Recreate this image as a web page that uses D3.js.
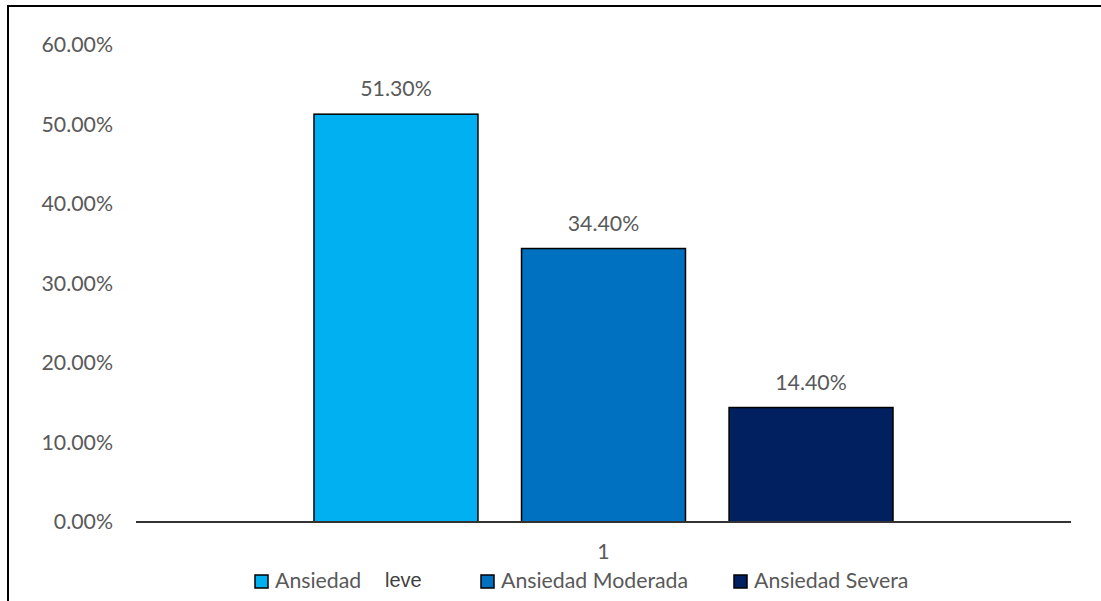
<!DOCTYPE html>
<html><head><meta charset="utf-8">
<script src="https://cdn.jsdelivr.net/npm/d3@7"></script>
<style>body{margin:0;background:#fff}svg{display:block}</style>
</head><body>
<svg id="c" width="1101" height="601"></svg>
<script>
const categories = ["1"];
const seriesNames = ["Ansiedad leve", "Ansiedad Moderada", "Ansiedad Severa"];
const seriesValues = [0.513, 0.344, 0.144];
const seriesColors = ["#00B0F0", "#0070C0", "#002060"];
const yTicks = [0, 0.1, 0.2, 0.3, 0.4, 0.5, 0.6];

const svg = d3.select("#c");
const FONT = "Lato, 'Open Sans', sans-serif";
const FS = "21.3px";
const TXT = "#595959";

// frame
svg.append("rect").attr("x", 8).attr("y", 6).attr("width", 1120).attr("height", 620)
  .attr("fill", "none").attr("stroke", "#000").attr("stroke-width", 2);

const mLeft = 136, mRight = 1071, mTop = 45, mBottom = 522;
const y = d3.scaleLinear().domain([0, 0.6]).range([mBottom, mTop]);
const x0 = d3.scaleBand().domain(categories).range([mLeft, mRight]);
const x1 = d3.scaleBand().domain(seriesNames).range([x0("1") + 178, x0("1") + x0.bandwidth() - 178]).paddingInner(0.21);

// y axis labels
const yAxis = d3.axisLeft(y).tickValues(yTicks).tickFormat(d => (d * 100).toFixed(2) + "%").tickSize(0).tickPadding(23);
const gy = svg.append("g").attr("transform", `translate(${mLeft},0)`).call(yAxis);
gy.select(".domain").remove();
gy.selectAll("text").attr("fill", TXT).style("font-family", FONT).style("font-size", FS);

// bars
const data = seriesNames.map((s, i) => ({ s, v: seriesValues[i], c: seriesColors[i] }));
svg.selectAll("rect.bar").data(data).join("rect").attr("class", "bar")
  .attr("x", d => x1(d.s)).attr("width", x1.bandwidth())
  .attr("y", d => y(d.v)).attr("height", d => y(0) - y(d.v))
  .attr("fill", d => d.c).attr("stroke", "#000").attr("stroke-width", 1.5);

// value labels
svg.selectAll("text.val").data(data).join("text").attr("class", "val")
  .attr("x", d => x1(d.s) + x1.bandwidth() / 2).attr("y", d => y(d.v) - 18)
  .attr("text-anchor", "middle").attr("fill", TXT)
  .style("font-family", FONT).style("font-size", FS)
  .text(d => (d.v * 100).toFixed(2) + "%");

// x axis
const xAxis = d3.axisBottom(x0).tickSize(0).tickPadding(22);
const gx = svg.append("g").attr("transform", `translate(0,${mBottom})`).call(xAxis);
gx.select(".domain").attr("stroke", "#333").attr("stroke-width", 2).attr("d", `M${mLeft},0H${mRight}`);
gx.selectAll("text").attr("fill", TXT).style("font-family", FONT).style("font-size", FS);

// legend
const legX = [255, 481, 734];
const lg = svg.append("g");
data.forEach((d, i) => {
  lg.append("rect").attr("x", legX[i]).attr("y", 575).attr("width", 13).attr("height", 13)
    .attr("fill", d.c).attr("stroke", "#000").attr("stroke-width", 1.5);
  const t = lg.append("text").attr("x", legX[i] + 20).attr("y", 588).attr("fill", TXT)
    .style("font-family", FONT).style("font-size", FS);
  if (i === 0) {
    const parts = d.s.split(" ");
    t.append("tspan").text(parts[0]);
    t.append("tspan").attr("x", 385).attr("y", 587).style("font-family", "'Liberation Sans', Arial, sans-serif")
      .style("font-size", "20px").attr("fill", "#404040").text(parts[1]);
  } else {
    t.text(d.s);
  }
});
</script>
</body></html>
